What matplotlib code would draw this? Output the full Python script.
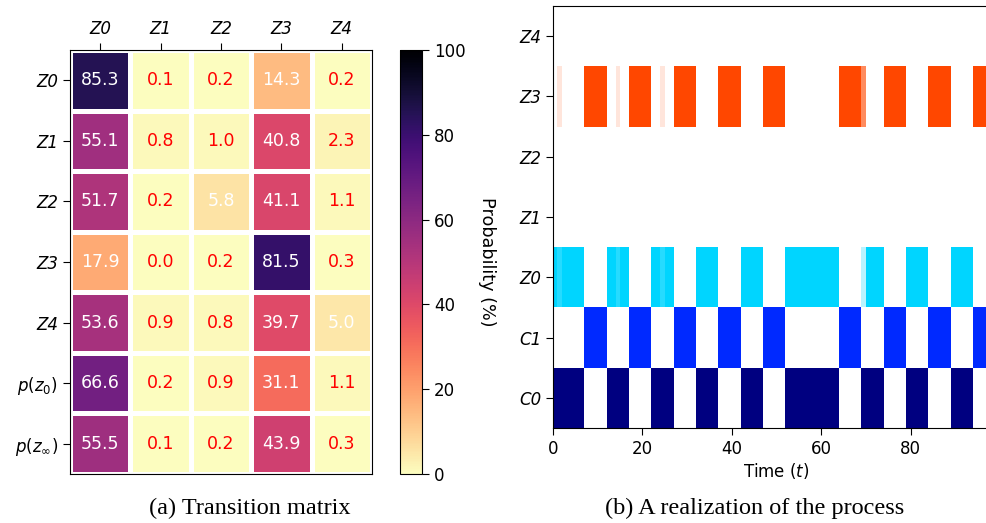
import numpy as np
import matplotlib
matplotlib.use("Agg")
import matplotlib.pyplot as plt

# ---------------- data ----------------
col_labels = ["Z0", "Z1", "Z2", "Z3", "Z4"]
row_labels = ["Z0", "Z1", "Z2", "Z3", "Z4", r"$p(z_0)$", r"$p(z_\infty)$"]
row_italic = [True, True, True, True, True, False, False]

trans_z0 = [85.3, 0.1, 0.2, 14.3, 0.2]
trans_z1 = [55.1, 0.8, 1.0, 40.8, 2.3]
trans_z2 = [51.7, 0.2, 5.8, 41.1, 1.1]
trans_z3 = [17.9, 0.0, 0.2, 81.5, 0.3]
trans_z4 = [53.6, 0.9, 0.8, 39.7, 5.0]
p_init = [66.6, 0.2, 0.9, 31.1, 1.1]
p_stat = [55.5, 0.1, 0.2, 43.9, 0.3]

cbar_ticks = [0, 20, 40, 60, 80, 100]

# realization: state of C at each time step (0 -> C0, 1 -> C1)
c_state = [0, 0, 0, 0, 0, 0, 0, 1, 1, 1, 1, 1, 0, 0, 0, 0, 0, 1, 1, 1,
           1, 1, 0, 0, 0, 0, 0, 1, 1, 1, 1, 1, 0, 0, 0, 0, 0, 1, 1, 1,
           1, 1, 0, 0, 0, 0, 0, 1, 1, 1, 1, 1, 0, 0, 0, 0, 0, 0, 0, 0,
           0, 0, 0, 0, 1, 1, 1, 1, 1, 0, 0, 0, 0, 0, 1, 1, 1, 1, 1, 0,
           0, 0, 0, 0, 1, 1, 1, 1, 1, 0, 0, 0, 0, 0, 1, 1, 1, 1, 1, 0]
# posterior probability of Z0 and Z3 at each time step
p_z0 = [1, .85, 1, 1, 1, 1, 1, 0, 0, 0, 0, 0, 1, 1, .85, 1, 1, 0, 0, 0,
        0, 0, 1, 1, .85, 1, 1, 0, 0, 0, 0, 0, 1, 1, 1, 1, 1, 0, 0, 0,
        0, 0, 1, 1, 1, 1, 1, 0, 0, 0, 0, 0, 1, 1, 1, 1, 1, 1, 1, 1,
        1, 1, 1, 1, 0, 0, 0, 0, 0, .27, 1, 1, 1, 1, 0, 0, 0, 0, 0, 1,
        1, 1, 1, 1, 0, 0, 0, 0, 0, 1, 1, 1, 1, 1, 0, 0, 0, 0, 0, 1]
p_z3 = [0, .14, 0, 0, 0, 0, 0, 1, 1, 1, 1, 1, 0, 0, .14, 0, 0, 1, 1, 1,
        1, 1, 0, 0, .14, 0, 0, 1, 1, 1, 1, 1, 0, 0, 0, 0, 0, 1, 1, 1,
        1, 1, 0, 0, 0, 0, 0, 1, 1, 1, 1, 1, 0, 0, 0, 0, 0, 0, 0, 0,
        0, 0, 0, 0, 1, 1, 1, 1, 1, .63, 0, 0, 0, 0, 1, 1, 1, 1, 1, 0,
        0, 0, 0, 0, 1, 1, 1, 1, 1, 0, 0, 0, 0, 0, 1, 1, 1, 1, 1, 0]
proc_labels = ["C0", "C1", "Z0", "Z1", "Z2", "Z3", "Z4"]
time_ticks = [0, 20, 40, 60, 80]

# ---------------- figure ----------------
plt.rcParams["font.family"] = ["DejaVu Sans"]
W, H = 986, 523
fig = plt.figure(figsize=(W / 100, H / 100), dpi=100)

def px_axes(x0, y0, x1, y1):
    return fig.add_axes([x0 / W, 1 - y1 / H, (x1 - x0) / W, (y1 - y0) / H])

# ---- left: transition matrix ----
ax = px_axes(70, 50, 372, 474)
M = np.array([trans_z0, trans_z1, trans_z2, trans_z3, trans_z4, p_init, p_stat])
mesh = ax.pcolormesh(np.arange(M.shape[1] + 1), np.arange(M.shape[0] + 1), M,
                     cmap="magma_r", vmin=0, vmax=100,
                     edgecolors="white", linewidth=3.6)
ax.set_xlim(0, M.shape[1])
ax.set_ylim(M.shape[0], 0)
for i in range(M.shape[0]):
    for j in range(M.shape[1]):
        v = M[i, j]
        ax.text(j + 0.5, i + 0.5, f"{v:.1f}", ha="center", va="center",
                fontsize=12.5, color="white" if v >= 5 else "red")
ax.xaxis.tick_top()
ax.set_xticks(np.arange(M.shape[1]) + 0.5)
ax.set_xticklabels(col_labels, fontsize=12, style="italic")
ax.set_yticks(np.arange(M.shape[0]) + 0.5)
ax.set_yticklabels(row_labels, fontsize=12)
for lbl, it in zip(ax.get_yticklabels(), row_italic):
    if it:
        lbl.set_style("italic")
ax.tick_params(length=5)

cax = px_axes(400, 50, 422, 474)
cb = fig.colorbar(mesh, cax=cax, ticks=cbar_ticks)
cb.outline.set_linewidth(0.8)
cb.ax.tick_params(labelsize=12, length=5)
cb.set_label("Probability (%)", rotation=270, fontsize=12.7, labelpad=22)

# ---- right: realization ----
ax2 = px_axes(553, 6, 553 + 100 * 4.47, 428)
colors = plt.cm.jet(np.linspace(0, 1, 7))
t = np.arange(len(c_state))
c_arr = np.array(c_state)
rows_alpha = {
    0: (c_arr == 0).astype(float),
    1: (c_arr == 1).astype(float),
    2: np.array(p_z0, dtype=float),
    5: np.array(p_z3, dtype=float),
}
for r, alph in rows_alpha.items():
    base = colors[r]
    cols = [(base[0], base[1], base[2], a) for a in alph]
    ax2.bar(t, 1.0, width=1.0, bottom=r - 0.5, align="edge",
            color=cols, linewidth=0)
ax2.set_xlim(0, 100)
ax2.set_ylim(-0.5, 6.5)
ax2.set_yticks(range(7))
ax2.set_yticklabels(proc_labels, fontsize=12, style="italic")
ax2.set_xticks(time_ticks)
ax2.tick_params(labelsize=12, length=5)
ax2.set_xlabel("Time ($t$)", fontsize=12, labelpad=2)

# captions
fig.text(250 / W, 1 - 508 / H, "(a) Transition matrix", ha="center", va="center",
         fontsize=17.5, family="Liberation Serif")
fig.text(755 / W, 1 - 508 / H, "(b) A realization of the process", ha="center",
         va="center", fontsize=17.5, family="Liberation Serif")

fig.savefig("out.png", dpi=100)
